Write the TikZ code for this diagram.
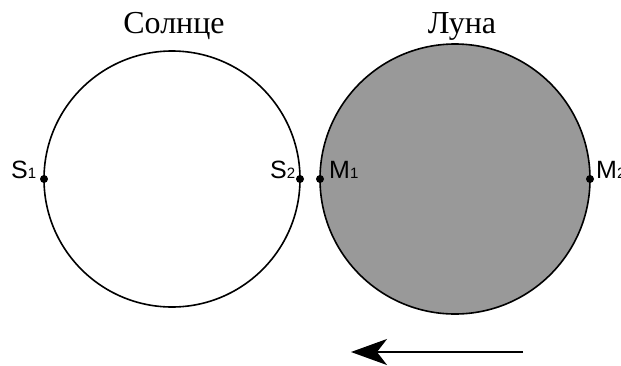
\documentclass[tikz,border=0pt]{standalone}
\usepackage{fontspec}
\setmainfont{Liberation Serif}
\newfontfamily\labelfont{Liberation Sans}
\usetikzlibrary{arrows.meta}
\begin{document}
\begin{tikzpicture}[x=1pt,y=-1pt,
  body/.style={draw=black,line width=1.6pt},
  pt/.style={circle,fill=black,inner sep=0pt,minimum size=8pt},
  title/.style={font=\fontsize{32}{32}\selectfont,anchor=base},
  ptlabel/.style={font=\labelfont\fontsize{25}{25}\selectfont,inner sep=0pt,anchor=base west}]
\useasboundingbox (0,0) rectangle (621,365);
% the two discs
\draw[body,fill=white] (172,179) circle[radius=128];
\draw[body,fill=black!40] (455,179) circle[radius=135];
% marked points on the rims
\node[pt] (s1) at (44,179) {};
\node[pt] (s2) at (300,179) {};
\node[pt] (m1) at (320,179) {};
\node[pt] (m2) at (590,179) {};
\node[ptlabel] (ls1) at (11,178) {S{\fontsize{15}{15}\selectfont 1}};
\node[ptlabel] (ls2) at (270,178) {S{\fontsize{15}{15}\selectfont 2}};
\node[ptlabel] (lm1) at (329,178) {M{\fontsize{15}{15}\selectfont 1}};
\node[ptlabel] (lm2) at (596,178) {M{\fontsize{15}{15}\selectfont 2}};
% titles
\node[title] (sun) at (174,33) {Солнце};
\node[title] (moon) at (462,33) {Луна};
% direction of motion
\coordinate (a0) at (523,352);
\coordinate (a1) at (351,352);
\draw[line width=2pt,-{Stealth[length=36pt,width=26pt,inset=10pt]}] (a0) -- (a1);
\end{tikzpicture}
\end{document}
